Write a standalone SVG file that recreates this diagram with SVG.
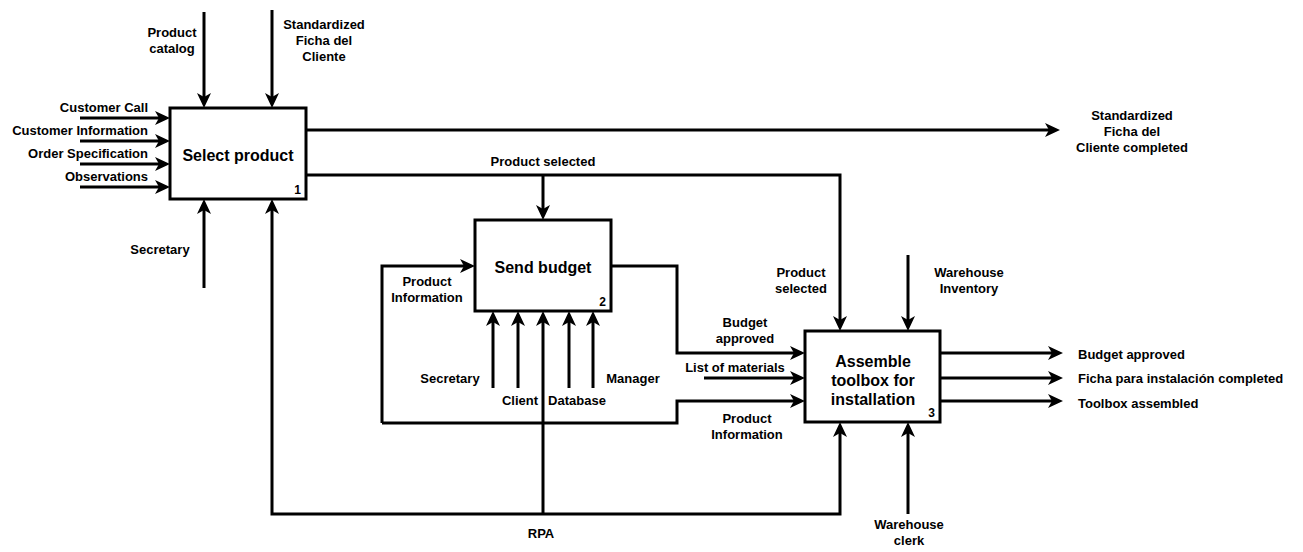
<svg xmlns="http://www.w3.org/2000/svg" width="1303" height="552" viewBox="0 0 1303 552">
<style>
.box{fill:#fff;stroke:#000;stroke-width:3}
.title{font-family:"Liberation Sans",Arial,sans-serif;font-weight:bold;font-size:16px;text-anchor:middle;fill:#000}
.num{font-family:"Liberation Sans",Arial,sans-serif;font-weight:bold;font-size:12px;text-anchor:end;fill:#000}
.lbl{font-family:"Liberation Sans",Arial,sans-serif;font-weight:bold;font-size:13px;fill:#000}
.c{text-anchor:middle}
.r{text-anchor:end}
.ln{fill:none;stroke:#000;stroke-width:3;stroke-linejoin:miter}
.a{marker-end:url(#arr)}
</style>
<defs>
<marker id="arr" markerUnits="userSpaceOnUse" markerWidth="16" markerHeight="16" refX="4" refY="7" orient="auto" overflow="visible">
<path d="M0,0 L15,7 L0,14 L4,7 z" fill="#000"/>
</marker>
</defs>
<g id="connectors">
<path class="ln a" d="M80,118 L159,118"/>
<path class="ln a" d="M80,141 L159,141"/>
<path class="ln a" d="M80,164 L159,164"/>
<path class="ln a" d="M80,187 L159,187"/>
<path class="ln a" d="M204,12 L204,97"/>
<path class="ln a" d="M272,10 L272,97"/>
<path class="ln a" d="M204,288 L204,210"/>
<path class="ln a" d="M306,130 L1049,130"/>
<path class="ln a" d="M306,175 L840,175 L840,320"/>
<path class="ln a" d="M543,175 L543,209"/>
<path class="ln a" d="M543,514 L272,514 L272,210"/>
<path class="ln a" d="M543,514 L840,514 L840,433"/>
<path class="ln a" d="M543,514 L543,322"/>
<path class="ln a" d="M493,388 L493,322"/>
<path class="ln a" d="M518,388 L518,322"/>
<path class="ln a" d="M569,388 L569,322"/>
<path class="ln a" d="M593,388 L593,322"/>
<path class="ln a" d="M611,266 L677,266 L677,353 L794,353"/>
<path class="ln a" d="M704,378 L794,378"/>
<path class="ln a" d="M382,423 L677,423 L677,401 L794,401"/>
<path class="ln a" d="M382,423 L382,266 L464,266"/>
<path class="ln a" d="M908,255 L908,320"/>
<path class="ln a" d="M908,514 L908,433"/>
<path class="ln a" d="M940,353 L1052,353"/>
<path class="ln a" d="M940,378 L1052,378"/>
<path class="ln a" d="M940,401 L1052,401"/>
</g>
<g id="node1">
<rect class="box" x="170" y="108" width="136" height="91"/>
<text class="title" x="238" y="161">Select product</text>
<text class="num" x="301" y="194">1</text>
</g>
<g id="node2">
<rect class="box" x="475" y="220" width="136" height="91"/>
<text class="title" x="543" y="273">Send budget</text>
<text class="num" x="606" y="306">2</text>
</g>
<g id="node3">
<rect class="box" x="805" y="331" width="135" height="91"/>
<text class="title" x="873" y="367">Assemble</text>
<text class="title" x="873" y="386">toolbox for</text>
<text class="title" x="873" y="405">installation</text>
<text class="num" x="935" y="417">3</text>
</g>
<g id="labels">
<text class="lbl r" x="148" y="112">Customer Call</text>
<text class="lbl r" x="148" y="135">Customer Information</text>
<text class="lbl r" x="148" y="158">Order Specification</text>
<text class="lbl r" x="148" y="181">Observations</text>
<text class="lbl c" x="172" y="37">Product</text>
<text class="lbl c" x="172" y="53">catalog</text>
<text class="lbl c" x="324" y="29">Standardized</text>
<text class="lbl c" x="324" y="45">Ficha del</text>
<text class="lbl c" x="324" y="61">Cliente</text>
<text class="lbl c" x="160" y="254">Secretary</text>
<text class="lbl c" x="1132" y="120">Standardized</text>
<text class="lbl c" x="1132" y="136">Ficha del</text>
<text class="lbl c" x="1132" y="152">Cliente completed</text>
<text class="lbl c" x="543" y="166">Product selected</text>
<text class="lbl c" x="427" y="286">Product</text>
<text class="lbl c" x="427" y="302">Information</text>
<text class="lbl c" x="450" y="383">Secretary</text>
<text class="lbl c" x="520" y="405">Client</text>
<text class="lbl c" x="577" y="405">Database</text>
<text class="lbl c" x="633" y="383">Manager</text>
<text class="lbl c" x="801" y="277">Product</text>
<text class="lbl c" x="801" y="293">selected</text>
<text class="lbl c" x="969" y="277">Warehouse</text>
<text class="lbl c" x="969" y="293">Inventory</text>
<text class="lbl c" x="745" y="327">Budget</text>
<text class="lbl c" x="745" y="343">approved</text>
<text class="lbl c" x="735" y="372">List of materials</text>
<text class="lbl c" x="747" y="423">Product</text>
<text class="lbl c" x="747" y="439">Information</text>
<text class="lbl c" x="541" y="538">RPA</text>
<text class="lbl c" x="909" y="529">Warehouse</text>
<text class="lbl c" x="909" y="545">clerk</text>
<text class="lbl" x="1078" y="359">Budget approved</text>
<text class="lbl" x="1078" y="383">Ficha para instalación completed</text>
<text class="lbl" x="1078" y="408">Toolbox assembled</text>
</g>
</svg>
